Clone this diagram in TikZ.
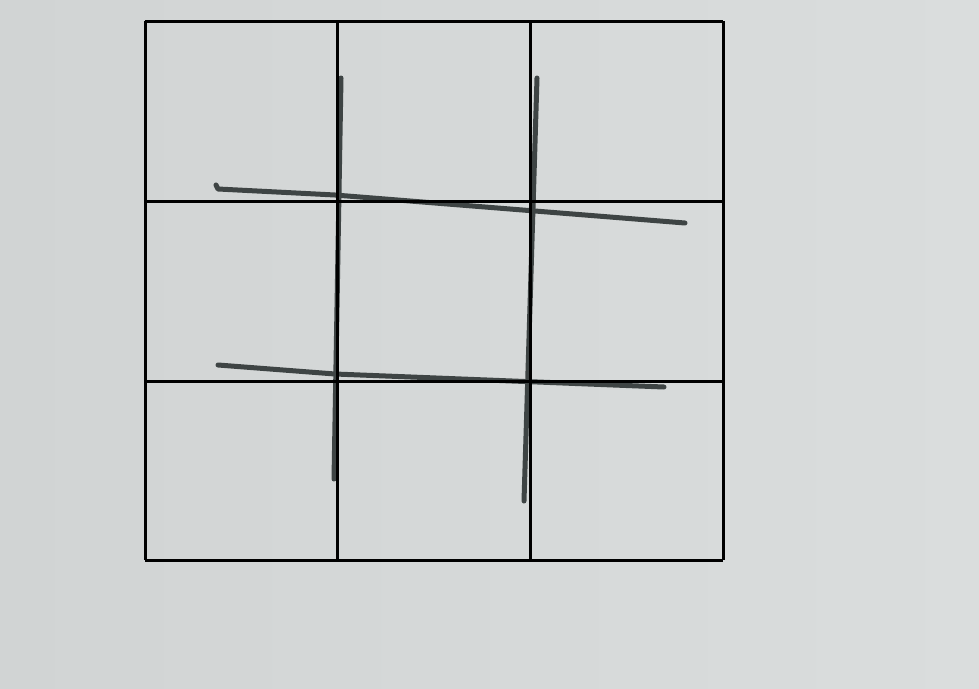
\documentclass[tikz,border=0pt]{standalone}
\begin{document}
\begin{tikzpicture}[x=1pt,y=-1pt,
  pen/.style={draw=penc,line width=5pt,line cap=round,line join=round},
  gridline/.style={draw=black,line width=3pt}]
\definecolor{paper}{HTML}{D1D4D4}
\definecolor{paperlight}{HTML}{DADDDD}
\definecolor{penc}{HTML}{3E4444}
\useasboundingbox (0,0) rectangle (979,688);
\shade[left color=paper, right color=paperlight] (0,0) rectangle (979,688);
% hand-drawn lines
\coordinate (v1t) at (341,78);
\coordinate (v1b) at (334,479);
\coordinate (v2t) at (537,78);
\coordinate (v2b) at (524,501);
\coordinate (h1s) at (216,185);
\coordinate (h1e) at (685,223);
\coordinate (h2s) at (218,365);
\coordinate (h2e) at (664,387);
\draw[pen] (v1t) -- (v1b);
\draw[pen] (v2t) -- (v2b);
\draw[pen] (h1s) -- (218,189) -- (335,195) -- (h1e);
\draw[pen] (h2s) -- (335,374) -- (h2e);
% overlaid grid
\foreach \x in {145,337,530,723} \draw[gridline] (\x,21) -- (\x,560);
\foreach \y in {21,201,381,560} \draw[gridline] (145,\y) -- (723,\y);
\end{tikzpicture}
\end{document}
